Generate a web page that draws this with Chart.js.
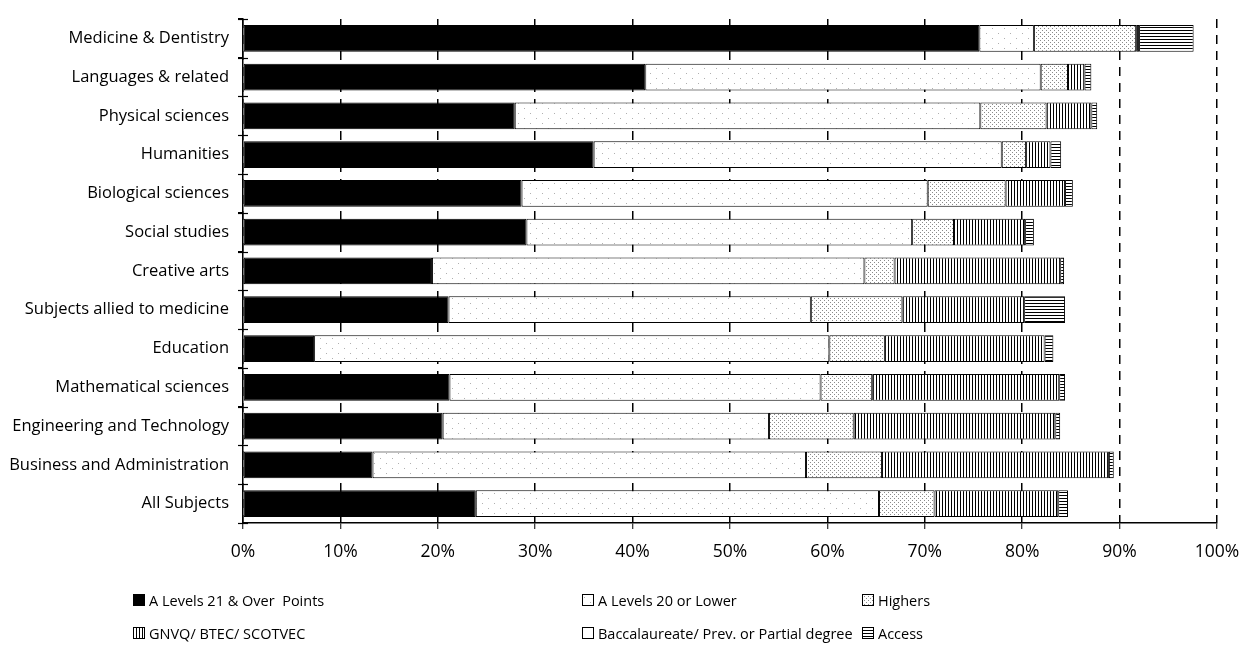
<!DOCTYPE html>
<html><head><meta charset="utf-8">
<script src="https://cdn.jsdelivr.net/npm/chart.js@4/dist/chart.umd.min.js"></script>
<style>
html,body{margin:0;padding:0;background:#fff;}
#wrap{position:relative;width:1243px;height:646px;overflow:hidden;}
#c{position:absolute;left:0;top:0;}
.leg{position:absolute;height:22px;font-family:"Open Sans";font-size:14.5px;color:#000;display:flex;align-items:center;white-space:pre;}
.leg canvas{margin-right:4px;}
</style></head><body>
<div id="wrap"><canvas id="c" width="1243" height="646"></canvas></div>
<script>
const categories = ["Medicine & Dentistry","Languages & related","Physical sciences","Humanities","Biological sciences","Social studies","Creative arts","Subjects allied to medicine","Education","Mathematical sciences","Engineering and Technology","Business and Administration","All Subjects"];
const seriesNames = ["A Levels 21 & Over  Points","A Levels 20 or Lower","Highers","GNVQ/ BTEC/ SCOTVEC","Baccalaureate/ Prev. or Partial degree","Access"];
const aLevels21 = [75.6,41.3,27.9,36.0,28.6,29.1,19.4,21.1,7.3,21.2,20.5,13.3,23.9];
const aLevels20 = [5.6,40.6,47.8,41.9,41.7,39.6,44.4,37.2,52.9,38.1,33.5,44.5,41.4];
const highers   = [10.5,2.8,6.8,2.5,8.0,4.3,3.1,9.4,5.7,5.3,8.7,7.8,5.7];
const gnvq      = [0.3,1.7,4.6,2.5,6.1,7.3,17.0,12.5,16.4,19.2,20.7,23.3,12.7];
const bacc      = [0,0,0,0,0,0,0,0,0,0,0,0,0];
const access    = [5.6,0.7,0.6,1.1,0.8,0.9,0.4,4.2,0.9,0.6,0.5,0.5,1.0];
const xTicks = [0,10,20,30,40,50,60,70,80,90,100];

function tile(w,h,draw){const t=document.createElement('canvas');t.width=w;t.height=h;const g=t.getContext('2d');g.fillStyle='#fff';g.fillRect(0,0,w,h);draw(g);return t;}
const tiles = [
  null,
  tile(12,10,g=>{g.fillStyle='#b0b0b0';g.fillRect(2,3,1,1);g.fillRect(8,8,1,1);}),
  tile(4,4,g=>{g.fillStyle='#8a8a8a';g.fillRect(0,0,1,1);g.fillRect(2,2,1,1);}),
  tile(3,1,g=>{g.fillStyle='#000';g.fillRect(0,0,1,1);}),
  null,
  tile(1,3,g=>{g.fillStyle='#000';g.fillRect(0,0,1,1);})
];
const ctx = document.getElementById('c').getContext('2d');
const fills = tiles.map((t,i)=> i===0 ? '#000' : (t ? ctx.createPattern(t,'repeat') : '#fff'));
const values = [aLevels21,aLevels20,highers,gnvq,bacc,access];

const yTickPlugin = {
  id:'ycross',
  afterDraw(chart){
    const y = chart.scales.y, x = chart.scales.x, c = chart.ctx;
    c.save(); c.strokeStyle='#000'; c.lineWidth=1.2;
    for(let i=0;i<=categories.length;i++){
      const p = Math.round(y.getPixelForValue(i-0.5))+0.5;
      c.beginPath(); c.moveTo(x.left-5,p); c.lineTo(x.left+5,p); c.stroke();
    }
    c.restore();
  }
};

new Chart(ctx,{
  type:'bar',
  data:{labels:categories,datasets:values.map((v,i)=>({label:seriesNames[i],data:v,backgroundColor:fills[i],borderColor:'#000',borderWidth:1,borderSkipped:false,barPercentage:0.69,categoryPercentage:1}))},
  options:{
    indexAxis:'y',responsive:false,animation:false,devicePixelRatio:1,
    layout:{padding:{top:14,right:26,left:0,bottom:0}},
    plugins:{legend:{display:false},tooltip:{enabled:false}},
    scales:{
      x:{stacked:true,min:0,max:100,afterBuildTicks:s=>{s.ticks=xTicks.map(v=>({value:v}));},
        ticks:{callback:v=>v+'%',color:'#000',font:{family:'Open Sans',size:17.5},padding:13,maxRotation:0},
        grid:{color:'#000',lineWidth:1.5,tickLength:6,tickColor:'#000',tickWidth:1},
        border:{display:true,color:'#000',width:1.5,dash:[9,7],z:1},
        afterFit:s=>{s.height=123;s.paddingLeft=0;s.paddingRight=0;}},
      y:{stacked:true,ticks:{color:'#000',font:{family:'Open Sans',size:16.5},padding:9,autoSkip:false},
        grid:{display:true,drawOnChartArea:false,offset:true,tickLength:5,color:'#000'},
        border:{color:'#000',width:1.5,z:1},
        afterFit:s=>{s.width=243;}}
    }
  },
  plugins:[yTickPlugin]
});

const legPos = [[133,600],[582,600],[862,600],[133,633],[582,633],[862,633]];
const wrap = document.getElementById('wrap');
seriesNames.forEach((n,i)=>{
  const d=document.createElement('div'); d.className='leg';
  d.style.left=legPos[i][0]+'px'; d.style.top=(legPos[i][1]-11)+'px';
  const sw=document.createElement('canvas'); sw.width=12; sw.height=12;
  const g=sw.getContext('2d'); g.fillStyle = i===0?'#000':(tiles[i]?g.createPattern(tiles[i],'repeat'):'#fff');
  g.fillRect(0,0,12,12); g.strokeStyle='#000'; g.lineWidth=1; g.strokeRect(0.5,0.5,11,11);
  d.appendChild(sw); d.appendChild(document.createTextNode(n)); wrap.appendChild(d);
});
</script>
</body></html>
